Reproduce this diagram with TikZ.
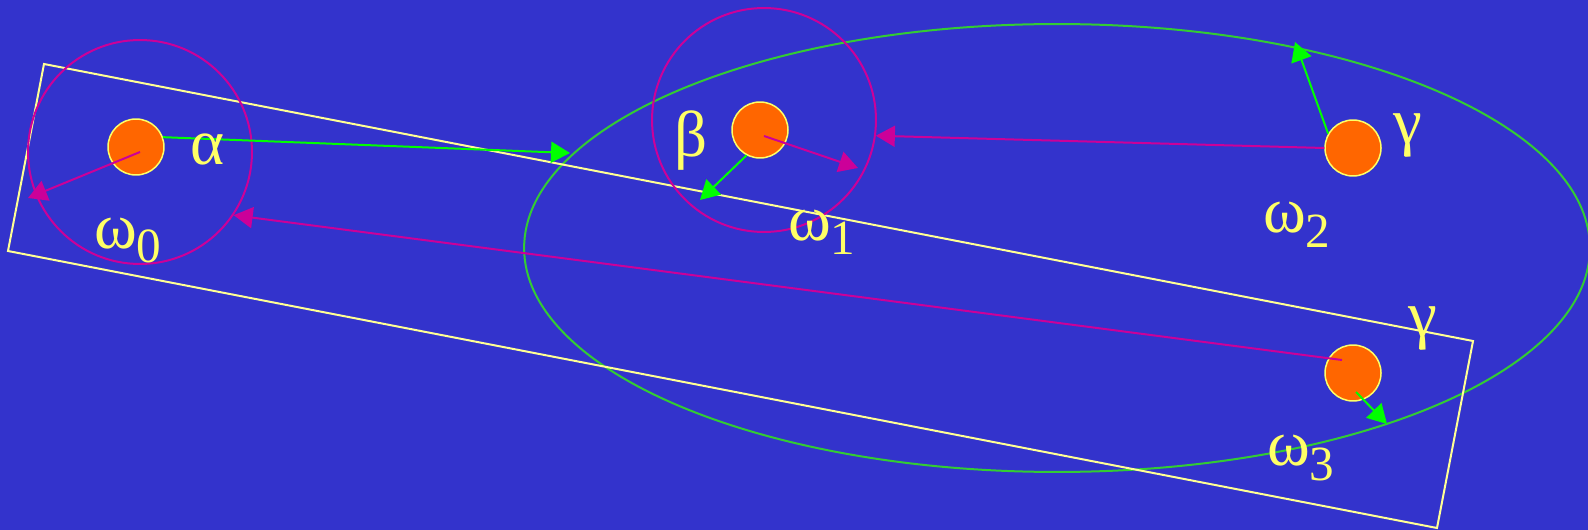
\documentclass[tikz,border=0pt]{standalone}
\usepackage{fontspec}
\setmainfont{Liberation Serif}
\usepackage{xcolor}
\usetikzlibrary{arrows.meta,positioning,shapes}
\newcommand{\omlab}[1]{ω\raisebox{-0.3cm}{\fontsize{28}{30}\selectfont #1}}

\begin{document}
\begin{tikzpicture}[x=0.02cm,y=-0.02cm,line width=0.04cm,
    font=\fontsize{37}{40}\selectfont]
      \definecolor{cBg}{RGB}{51,51,204}
      \definecolor{cDot}{RGB}{255,102,0}
      \definecolor{cYel}{RGB}{255,255,102}
      \definecolor{cMag}{RGB}{204,0,153}
      \definecolor{cGrn}{RGB}{0,255,0}
      \definecolor{cEll}{RGB}{51,204,51}
      \tikzset{
        dot/.style={circle,fill=cDot,draw=cYel,line width=0.03cm,minimum size=1.12cm,inner sep=0pt},
        ring/.style={circle,draw=cMag,minimum size=4.48cm,inner sep=0pt},
        lab/.style={text=cYel,inner sep=0pt,anchor=base west},
        garrow/.style={cGrn,-{Triangle[length=0.38cm,width=0.42cm]}},
        marrow/.style={cMag,-{Triangle[length=0.38cm,width=0.42cm]}}
      }
      \fill[cBg] (0,0) rectangle (1588,530);
      \useasboundingbox (0,0) rectangle (1588,530);
      \draw[cEll] (1057,248) ellipse[x radius=10.66cm,y radius=4.48cm];
      \draw[cYel!70!white] (44,64) -- (1473,341) -- (1437,528) -- (8,251) -- cycle;
      \node[ring] (wZero) at (140,152) {};
      \node[ring] (wOne) at (764,120) {};
      \node[dot] (dA) at (136,147) {};
      \node[dot] (dB) at (760,130) {};
      \node[dot] (dC) at (1353,148) {};
      \node[dot] (dD) at (1353,373) {};
      \coordinate (tA) at (570,153);
      \coordinate (tAm) at (28,198);
      \coordinate (tBm) at (858,168);
      \coordinate (tBg) at (700,200);
      \coordinate (tCg) at (1295,42);
      \coordinate (tDg) at (1387,424);
      \coordinate (sDm) at (1342,360);
      \coordinate (sBm) at (764,136);
      \draw[garrow] (dA.20) -- (tA);
      \draw[marrow] ([shift={(4,5)}]dA.center) -- (tAm);
      \draw[marrow] (sDm) -- (wZero.-34);
      \draw[marrow] (sBm) -- (tBm);
      \draw[garrow] (dB.-118) -- (tBg);
      \draw[marrow] (dC.west) -- (wOne.-8);
      \draw[garrow] (dC.150) -- (tCg);
      \draw[garrow] ([shift={(3,19)}]dD.center) -- (tDg);
      \node[lab] (lA) at (189,165) {α};
      \node[lab] (lB) at (673,157) {β};
      \node[lab] (lC) at (1392,144) {γ};
      \node[lab] (lD) at (1407,336) {γ};
      \node[lab] (w0) at (93,248) {\omlab{0}};
      \node[lab] (w1) at (787,240) {\omlab{1}};
      \node[lab] (w2) at (1262,233) {\omlab{2}};
      \node[lab] (w3) at (1266,465) {\omlab{3}};
    \end{tikzpicture}
\end{document}
